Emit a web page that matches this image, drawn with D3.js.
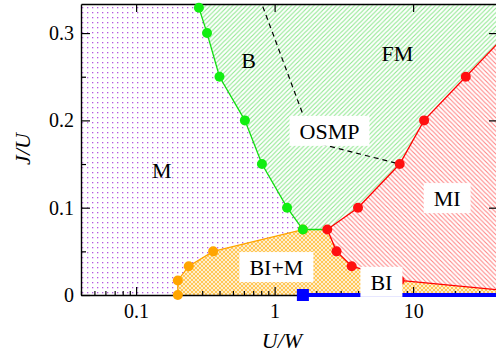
<!DOCTYPE html>
<html>
<head>
<meta charset="utf-8">
<script src="https://cdn.jsdelivr.net/npm/d3@7"></script>
<style>
  body { margin: 0; background: #fff; }
  svg { display: block; font-family: "Liberation Serif", "DejaVu Serif", serif; }
</style>
</head>
<body>
<div id="chart"></div>
<script>
// phase boundaries (U/W, J/U)
const greenU = [0.284, 0.325, 0.40, 0.61, 0.81, 1.23, 1.6];
const greenJ = [0.329, 0.30, 0.25, 0.20, 0.15, 0.10, 0.075];
const redUpperU = [2.4, 4, 8, 12, 24, 48];
const redUpperJ = [0.075, 0.10, 0.15, 0.20, 0.25, 0.30];
const redLowerU = [2.4, 2.8, 3.6, 8, 48];
const redLowerJ = [0.075, 0.05, 0.033, 0.0167, 0.005];
const orangeU = [0.2, 0.2, 0.24, 0.36, 1.6];
const orangeJ = [0, 0.0167, 0.033, 0.05, 0.075];
const osmpU = [0.78, 1.9, 8];
const osmpJ = [0.34, 0.175, 0.15];
const blueU = [1.6, 41];
const blueJ = [0, 0];

const xMajor = [0.1, 1, 10];
const xMinor = [0.04, 0.05, 0.06, 0.07, 0.08, 0.09, 0.2, 0.3, 0.4, 0.5, 0.6, 0.7, 0.8, 0.9,
  2, 3, 4, 5, 6, 7, 8, 9, 20, 30, 40];
const yMajor = [0, 0.1, 0.2, 0.3];
const yMinor = [0.05, 0.15, 0.25];

const labels = [
  { text: "B", u: 0.65, j: 0.269, box: false },
  { text: "FM", u: 7.7, j: 0.277, box: false },
  { text: "OSMP", u: 2.49, j: 0.188, box: true },
  { text: "M", u: 0.153, j: 0.143, box: false },
  { text: "MI", u: 17.6, j: 0.111, box: true },
  { text: "BI+M", u: 1.03, j: 0.032, box: true },
  { text: "BI", u: 5.9, j: 0.015, box: true },
];

const zip = (us, js) => us.map((u, i) => [u, js[i]]);

const W = 496, H = 360;
const LEFT = 81, RIGHT = 498, TOP = 4, BOTTOM = 295;

const svg = d3.select("#chart").append("svg")
  .attr("width", W)
  .attr("height", H);

const x = d3.scaleLog().domain([0.04, 41]).range([LEFT, RIGHT]);
const y = d3.scaleLinear().domain([0, 0.3333]).range([BOTTOM, TOP]);

const defs = svg.append("defs");

function hatch(id, s, paths, color) {
  const p = defs.append("pattern")
    .attr("id", id)
    .attr("patternUnits", "userSpaceOnUse")
    .attr("width", s).attr("height", s);
  p.append("rect").attr("width", s).attr("height", s).attr("fill", "#fff");
  paths.forEach(d => p.append("path").attr("d", d)
    .attr("stroke", color).attr("stroke-width", 1.1).attr("fill", "none"));
}
const s = 4.5;
const slash = `M${-s/4},${s/4} L${s/4},${-s/4} M0,${s} L${s},0 M${s*3/4},${s*5/4} L${s*5/4},${s*3/4}`;
const back = `M${-s/4},${s*3/4} L${s/4},${s*5/4} M0,0 L${s},${s} M${s*3/4},${-s/4} L${s*5/4},${s/4}`;
hatch("hGreen", s, [slash], "#8ee88e");
hatch("hRed", s, [back], "#ff8585");
hatch("hOrange", 4, [
  "M-1,1 L1,-1 M0,4 L4,0 M3,5 L5,3",
  "M-1,3 L1,5 M0,0 L4,4 M3,-1 L5,1"], "#ffc550");

const dots = defs.append("pattern")
  .attr("id", "hPurple")
  .attr("patternUnits", "userSpaceOnUse")
  .attr("width", 5).attr("height", 5);
dots.append("rect").attr("width", 5).attr("height", 5).attr("fill", "#fff");
dots.append("rect").attr("x", 2).attr("y", 2).attr("width", 1.3).attr("height", 1.3).attr("fill", "#b658e2");

defs.append("clipPath").attr("id", "plotClip")
  .append("rect")
  .attr("x", LEFT).attr("y", TOP)
  .attr("width", RIGHT - LEFT).attr("height", BOTTOM - TOP);

const plot = svg.append("g").attr("clip-path", "url(#plotClip)");

plot.append("rect")
  .attr("x", LEFT).attr("y", TOP)
  .attr("width", RIGHT - LEFT).attr("height", BOTTOM - TOP)
  .attr("fill", "url(#hPurple)");

const line = d3.line().x(d => x(d[0])).y(d => y(d[1]));

const green = zip(greenU, greenJ);
const redUp = zip(redUpperU, redUpperJ);
const redLow = zip(redLowerU, redLowerJ);
const orange = zip(orangeU, orangeJ);

// regions
const greenPoly = green.concat(redUp,
  [[redUpperU[redUpperU.length - 1], 0.34], [greenU[0], 0.34]]);
const redPoly = redUp.concat(redLow.slice().reverse());
const orangePoly = orange.concat(redLow, [[redLowerU[redLowerU.length - 1], 0]]);

plot.append("path").attr("d", line(greenPoly) + "Z").attr("fill", "url(#hGreen)");
plot.append("path").attr("d", line(redPoly) + "Z").attr("fill", "url(#hRed)");
plot.append("path").attr("d", line(orangePoly) + "Z").attr("fill", "url(#hOrange)");

// boundary lines
plot.append("path").attr("d", line(orange))
  .attr("fill", "none").attr("stroke", "#ffa500").attr("stroke-width", 1.3);
plot.append("path").attr("d", line(green.concat([redUp[0]])))
  .attr("fill", "none").attr("stroke", "#11dd11").attr("stroke-width", 1.3);
plot.append("path").attr("d", line(redUp))
  .attr("fill", "none").attr("stroke", "#ff0000").attr("stroke-width", 1.3);
plot.append("path").attr("d", line(redLow))
  .attr("fill", "none").attr("stroke", "#ff0000").attr("stroke-width", 1.3);
plot.append("path").attr("d", line(zip(osmpU, osmpJ)))
  .attr("fill", "none").attr("stroke", "#000").attr("stroke-width", 1.2)
  .attr("stroke-dasharray", "5,4");

// axes (ticks point inward)
const gx = svg.append("g").attr("transform", `translate(0,${BOTTOM})`);
gx.call(d3.axisBottom(x).tickValues(xMinor).tickFormat("").tickSizeInner(-4).tickSizeOuter(0));
gx.call(g => g.select(".domain").remove());
const gx2 = svg.append("g").attr("transform", `translate(0,${BOTTOM})`)
  .call(d3.axisBottom(x).tickValues(xMajor).tickFormat(d => d)
    .tickSizeInner(-8).tickSizeOuter(0).tickPadding(9));

const gt = svg.append("g").attr("transform", `translate(0,${TOP})`);
gt.call(d3.axisTop(x).tickValues(xMinor).tickFormat("").tickSizeInner(-4).tickSizeOuter(0));
gt.call(d3.axisTop(x).tickValues(xMajor).tickFormat("").tickSizeInner(-8).tickSizeOuter(0));

const gy = svg.append("g").attr("transform", `translate(${LEFT},0)`);
gy.call(d3.axisLeft(y).tickValues(yMinor).tickFormat("").tickSizeInner(-5).tickSizeOuter(0));
gy.call(g => g.select(".domain").remove());
const gy2 = svg.append("g").attr("transform", `translate(${LEFT},0)`)
  .call(d3.axisLeft(y).tickValues(yMajor).tickFormat(d => d === 0 ? "0" : d.toFixed(1))
    .tickSizeInner(-9).tickSizeOuter(0).tickPadding(7));

const gr = svg.append("g").attr("transform", `translate(${RIGHT},0)`);
gr.call(d3.axisRight(y).tickValues(yMinor).tickFormat("").tickSizeInner(-5).tickSizeOuter(0));
gr.call(d3.axisRight(y).tickValues(yMajor).tickFormat("").tickSizeInner(-9).tickSizeOuter(0));

svg.selectAll(".domain").attr("stroke", "#000").attr("stroke-width", 1.4);
svg.selectAll(".tick line").attr("stroke", "#000").attr("stroke-width", 1.2);
svg.selectAll(".tick text")
  .attr("font-family", "Liberation Serif, serif")
  .attr("font-size", 20)
  .attr("fill", "#000");

// blue BI line on the axis
svg.append("path").attr("d", line(zip(blueU, blueJ)))
  .attr("stroke", "#0000ff").attr("stroke-width", 4).attr("fill", "none");
svg.append("rect")
  .attr("x", x(blueU[0]) - 6).attr("y", y(blueJ[0]) - 6)
  .attr("width", 12).attr("height", 12).attr("fill", "#0000ff");

// points
const inside = d => d[0] <= x.domain()[1];
svg.append("g").selectAll("circle").data(orange).join("circle")
  .attr("cx", d => x(d[0])).attr("cy", d => y(d[1])).attr("r", 5).attr("fill", "#ffa500");
svg.append("g").selectAll("circle").data(green).join("circle")
  .attr("cx", d => x(d[0])).attr("cy", d => y(d[1])).attr("r", 5).attr("fill", "#11ee11");
svg.append("g").selectAll("circle").data(redUp.concat(redLow.slice(1)).filter(inside)).join("circle")
  .attr("cx", d => x(d[0])).attr("cy", d => y(d[1])).attr("r", 5).attr("fill", "#ff1010");

// region labels
labels.forEach(l => {
  const g = svg.append("g");
  const t = g.append("text")
    .attr("x", x(l.u)).attr("y", y(l.j))
    .attr("text-anchor", "middle")
    .attr("dy", "0.35em")
    .attr("font-size", 22)
    .attr("fill", "#000")
    .text(l.text);
  if (l.box) {
    const b = t.node().getBBox();
    g.insert("rect", "text")
      .attr("x", b.x - 10).attr("y", y(l.j) - 15)
      .attr("width", b.width + 20).attr("height", 30)
      .attr("fill", "#fff");
  }
});

// axis titles
svg.append("text")
  .attr("x", 282).attr("y", 348)
  .attr("text-anchor", "middle")
  .attr("font-size", 22).attr("font-style", "italic")
  .text("U/W");
svg.append("text")
  .attr("transform", "translate(30,149) rotate(-90)")
  .attr("text-anchor", "middle")
  .attr("font-size", 22).attr("font-style", "italic")
  .text("J/U");
</script>
</body>
</html>
